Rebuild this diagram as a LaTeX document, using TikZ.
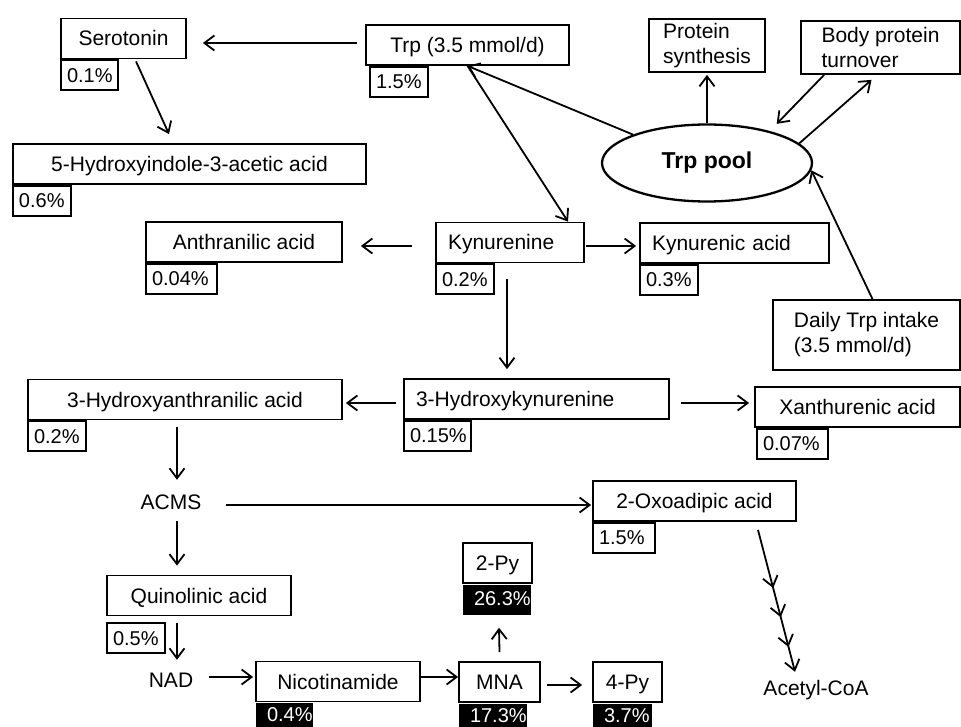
\documentclass[tikz,border=0pt]{standalone}
\usepackage{fontspec}
\setmainfont{Liberation Sans}
\usetikzlibrary{arrows.meta,shapes.geometric,decorations.markings}
\tikzset{
  box/.style={draw,line width=1.8pt,inner xsep=12pt,inner ysep=0pt,minimum height=40pt,text height=15pt,text depth=0pt},
  lbox/.style={box,align=left,text width=#1},
  nbox/.style={draw,line width=1.8pt,align=left,inner xsep=0pt,inner ysep=0pt,minimum height=53pt},
  pct/.style={draw,line width=1.8pt,anchor=north west,inner xsep=6pt,inner ysep=0pt,minimum height=30pt,align=left,text width=#1,text height=14pt,text depth=0pt,font=\fontsize{20}{24}\selectfont},
  bpct/.style={pct=#1,draw=none,fill=black,text=white,inner xsep=11pt,minimum height=26pt,text depth=3pt},
  lbl/.style={inner sep=0pt,text height=15pt,text depth=0pt},
  arr/.style={line width=1.8pt,-{Straight Barb[length=10pt,width=15pt]}},
  multitip/.style={postaction={decorate},decoration={markings,
    mark=at position 0.41 with {\arrow{Straight Barb[length=10pt,width=15pt]}},
    mark=at position 0.615 with {\arrow{Straight Barb[length=10pt,width=15pt]}},
    mark=at position 0.825 with {\arrow{Straight Barb[length=10pt,width=15pt]}}}}
}
\begin{document}
\begin{tikzpicture}[x=1pt,y=-1pt,font=\fontsize{21}{25}\selectfont]
  \path[use as bounding box,clip] (0,0) rectangle (961,727);

  \node[box,minimum width=125pt] (sero) at (123.5,38.5) {Serotonin};
  \node[box,minimum width=203pt] (trp) at (467.5,45) {Trp (3.5 mmol/d)};
  \node[box,minimum width=353pt] (hiaa) at (189.5,164) {5-Hydroxyindole-3-acetic acid};
  \node[nbox,minimum width=116pt] (prot) at (707,45.5) {Protein\\synthesis};
  \node[nbox,minimum width=159pt] (body) at (880.5,47.5) {Body protein\\turnover};
  \node[draw,ellipse,line width=2.3pt,minimum width=210pt,minimum height=77pt,inner sep=0pt,
        font=\bfseries\fontsize{23}{27}\selectfont] (pool) at (707,163) {Trp pool};
  \node[box,minimum width=196pt] (anth) at (244,242) {Anthranilic acid};
  \node[lbox=124pt] (kyn) at (510,242.5) {Kynurenine};
  \node[lbox=165pt] (kyna) at (734.5,243) {Kynurenic acid};
  \node[nbox,minimum width=187pt,minimum height=70pt] (daily) at (866.5,335) {Daily Trp intake\\(3.5 mmol/d)};
  \node[lbox=241pt] (hk) at (536.5,399) {3-Hydroxykynurenine};
  \node[box,minimum width=314pt] (haa) at (185,399.5) {3-Hydroxyanthranilic acid};
  \node[box,minimum width=205pt] (xan) at (857.5,407) {Xanthurenic acid};
  \node[lbl] (acms) at (171,502) {ACMS};
  \node[box,minimum width=203pt] (oxo) at (694.5,501) {2-Oxoadipic acid};
  \node[box,minimum width=184pt] (quin) at (199,595.5) {Quinolinic acid};
  \node[box,minimum width=69pt] (py2) at (497.5,563) {2-Py};
  \node[lbl] (nad) at (171,680) {NAD};
  \node[box,minimum width=164pt] (nic) at (338,681.5) {Nicotinamide};
  \node[box,minimum width=81pt] (mna) at (499.5,682) {MNA};
  \node[box,minimum width=69pt] (py4) at (627.5,682) {4-Py};
  \node[lbl] (acoa) at (816,688) {Acetyl-CoA};

  \node[pct=45pt] (serop) at (sero.south west) {0.1\%};
  \node[pct=46pt] (trpp) at ([xshift=4pt]trp.south west) {1.5\%};
  \node[pct=46pt] (hiaap) at (hiaa.south west) {0.6\%};
  \node[pct=59pt] (anthp) at (anth.south west) {0.04\%};
  \node[pct=46pt] (kynp) at (kyn.south west) {0.2\%};
  \node[pct=46pt] (kynap) at (kyna.south west) {0.3\%};
  \node[pct=55pt] (hkp) at (hk.south west) {0.15\%};
  \node[pct=46pt] (haap) at (haa.south west) {0.2\%};
  \node[pct=59pt] (xanp) at ([xshift=2pt]xan.south west) {0.07\%};
  \node[pct=50pt] (oxop) at (oxo.south west) {1.5\%};
  \node[pct=46pt] (quinp) at ([yshift=-6pt]quin.south west) {0.5\%};
  \node[bpct=35pt] (nicp) at (nic.south west) {0.4\%};
  \node[bpct=46pt] (mnap) at (mna.south west) {17.3\%};
  \node[bpct=46pt,minimum height=30pt] (py2p) at (py2.south west) {26.3\%};
  \node[bpct=37pt] (py4p) at (py4.south west) {3.7\%};

  \draw[arr] ([shift={(-8,-2)}]trp.west) -- ([shift={(16,4.5)}]sero.east);
  \draw[arr] ([shift={(12.5,2)}]sero.south) -- ([shift={(-20.5,-9)}]hiaa.north);
  \draw[arr] (pool.159.5) -- (trp.south);
  \draw[arr] (trp.south) -- ([xshift=58pt]kyn.north);
  \draw[arr,shorten >=2pt] (pool.north) -- (prot.south);
  \draw[arr,shorten >=10pt] ([xshift=24pt]body.south west) -- (pool.27);
  \draw[arr] (pool.12) -- ([shift={(-9,5)}]body.south);
  \draw[arr] ([xshift=6pt]daily.north) -- (pool.-4);
  \draw[arr] ([shift={(-23,3.5)}]kyn.west) -- ([shift={(18,4)}]anth.east);
  \draw[arr] ([shift={(1,3.5)}]kyn.east) -- ([shift={(-3,3)}]kyna.west);
  \draw[arr] ([shift={(-3,16)}]kyn.south) -- ([shift={(-29.5,-9)}]hk.north);
  \draw[arr] ([shift={(-7,4)}]hk.west) -- ([shift={(3,3.5)}]haa.east);
  \draw[arr] ([shift={(11,4)}]hk.east) -- ([shift={(-5,-4)}]xan.west);
  \draw[arr] ([shift={(-8,7)}]haa.south) -- ([shift={(6,-14.5)}]acms.north);
  \draw[arr] ([shift={(24,3)}]acms.east) -- ([shift={(-1,4)}]oxo.west);
  \draw[arr] ([shift={(6,11.5)}]acms.south) -- ([shift={(-22,-9)}]quin.north);
  \draw[arr] ([shift={(-22,7)}]quin.south) -- ([shift={(6,-12.5)}]nad.north);
  \draw[arr] ([shift={(16,-3)}]nad.east) -- ([shift={(-2,-4.5)}]nic.west);
  \draw[arr] ([shift={(0,-4.5)}]nic.east) -- ([shift={(0,-5)}]mna.west);
  \draw[arr] ([shift={(0,-9)}]mna.north) -- ([shift={(2,12)}]py2p.south);
  \draw[arr] ([shift={(6,3)}]mna.east) -- ([shift={(-10,3)}]py4.west);
  \draw[arr,multitip] ([shift={(63.5,8)}]oxo.south) -- ([shift={(-21,-8.5)}]acoa.north);
\end{tikzpicture}
\end{document}
